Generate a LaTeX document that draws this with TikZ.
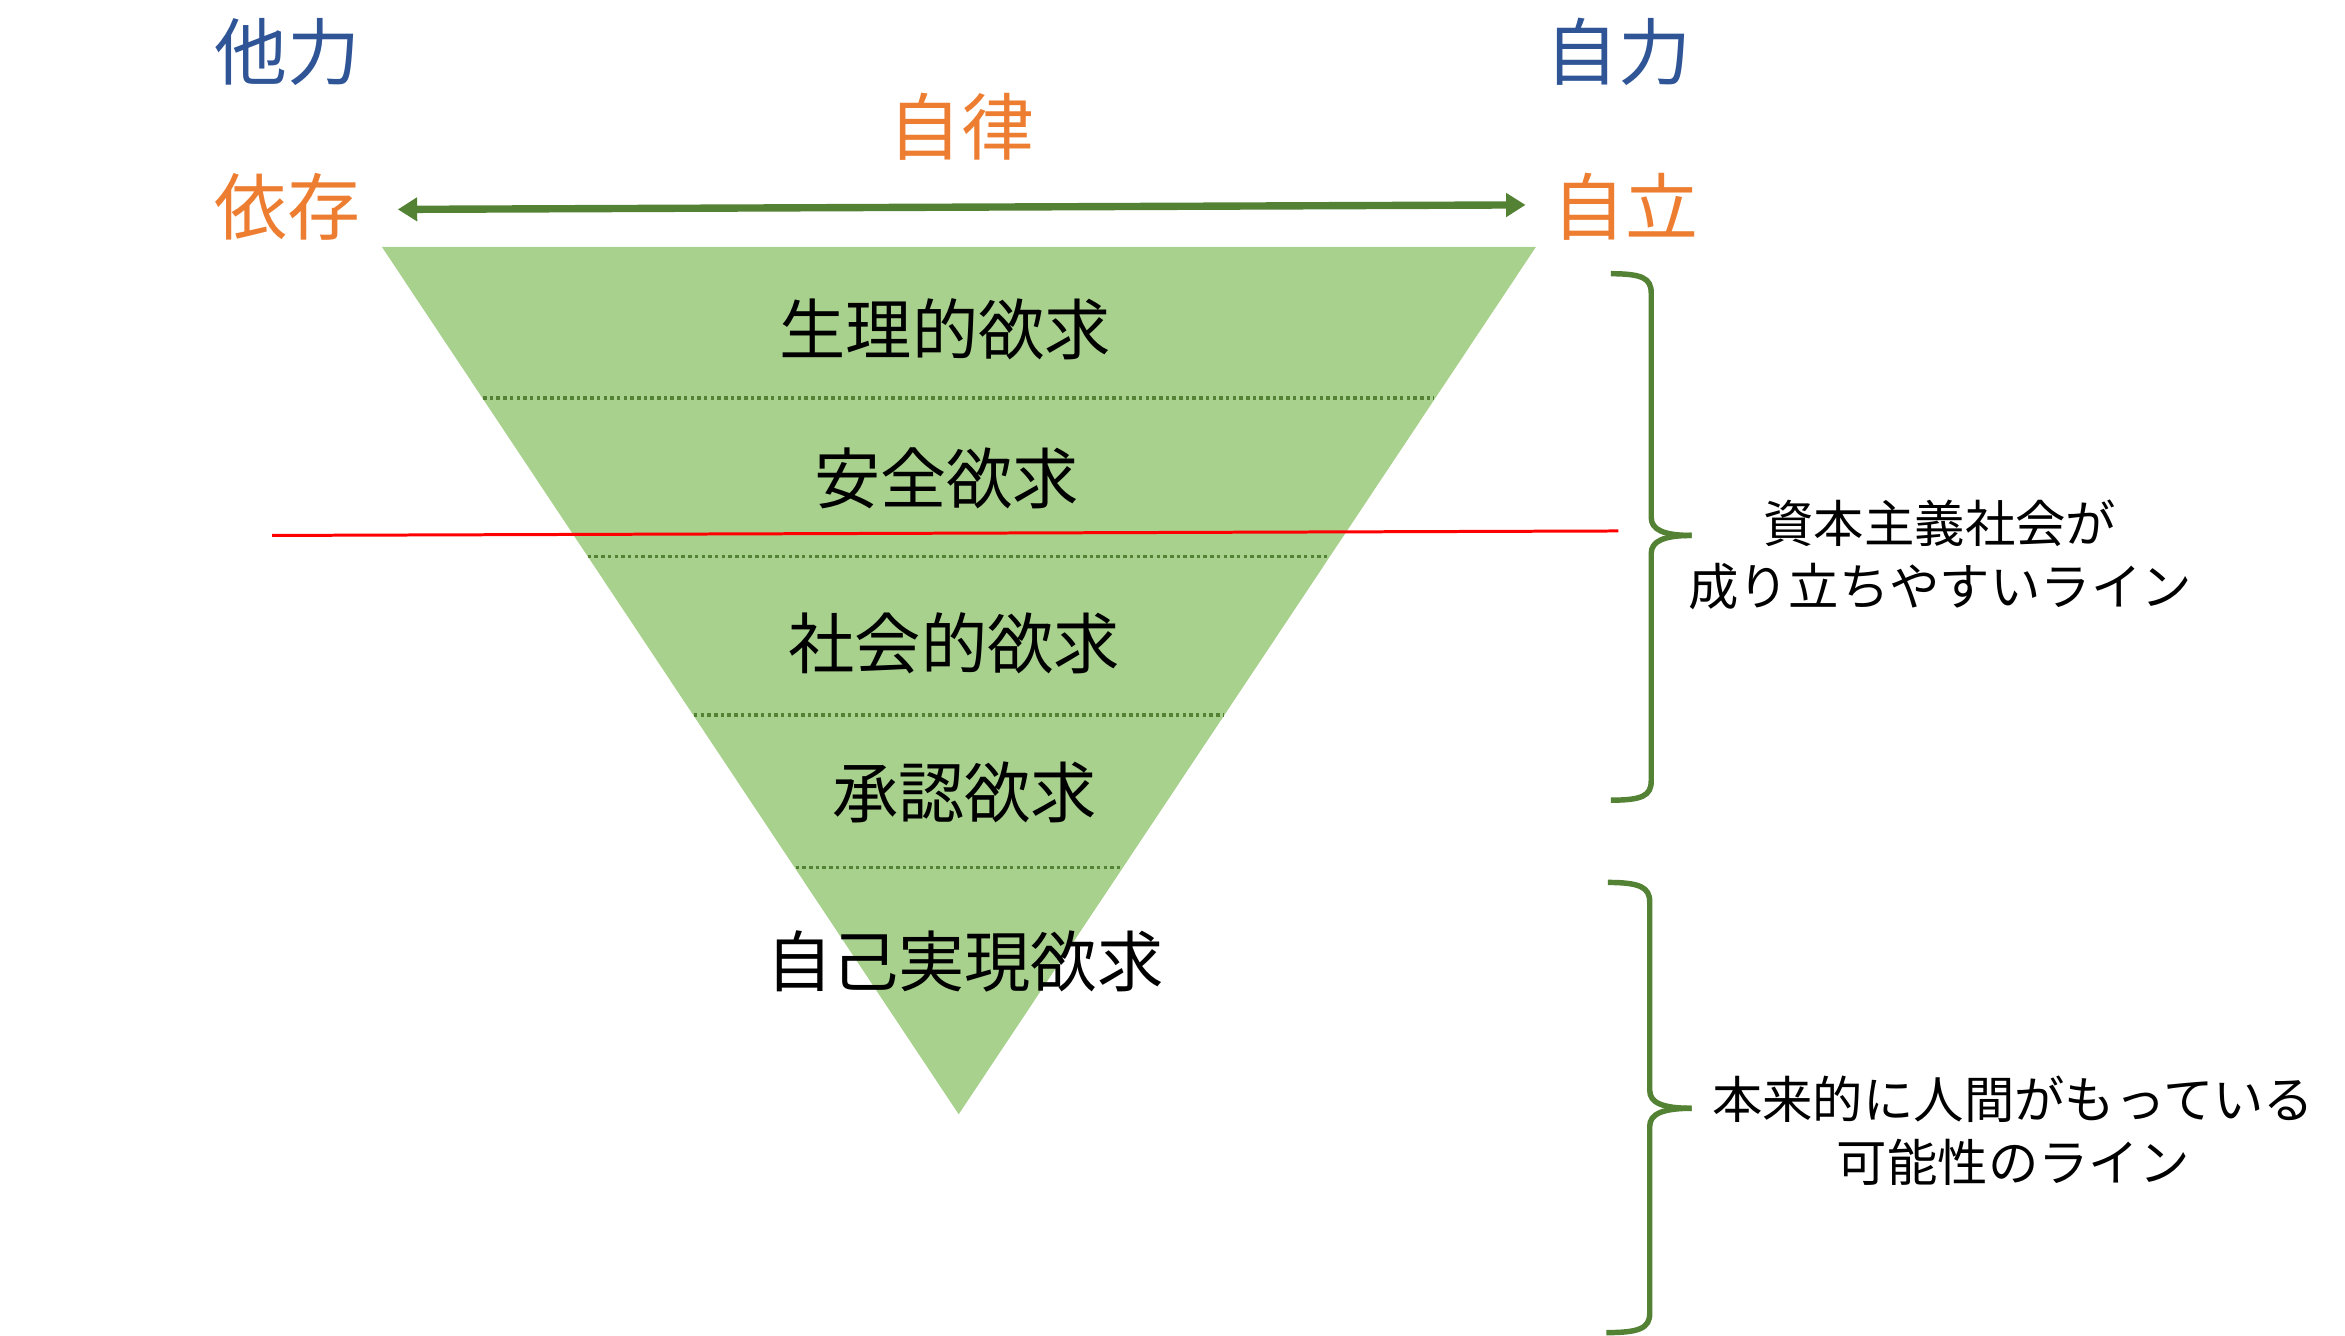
\documentclass[tikz,border=0pt]{standalone}
\usepackage{fontspec}
\setmainfont{Noto Sans CJK JP}
\usetikzlibrary{arrows.meta}
\definecolor{cblue}{HTML}{2F5597}
\definecolor{corange}{HTML}{ED7D31}
\definecolor{cgreen}{HTML}{548235}
\definecolor{cfill}{HTML}{A9D18E}
\tikzset{
  toplabel/.style={inner sep=0pt, font=\fontsize{20.7}{24}\selectfont},
  levellabel/.style={inner sep=0pt, text=black, font=\fontsize{18.8}{22}\selectfont},
  sidelabel/.style={inner sep=0pt, align=center, text=black, font=\fontsize{14.3}{17.9}\selectfont},
  divider/.style={draw=cgreen, line width=0.95pt, dash pattern=on 1pt off 0.9pt},
  bracestyle/.style={draw=cgreen, line width=1.55pt},
  axisarrow/.style={draw=cgreen, line width=2.1pt, {Triangle[width=6.5pt,length=5.5pt]}-{Triangle[width=6.5pt,length=5.5pt]}},
}
\begin{document}
\begin{tikzpicture}[x=0.015cm, y=-0.015cm]
\useasboundingbox (0,0) rectangle (1560,888.7);
\begin{scope}[scale=0.995]
% pyramid
\coordinate (tl) at (255.3,165);
\coordinate (tr) at (1027,165);
\coordinate (bt) at (641,745);
\fill[cfill] (tl) -- (tr) -- (bt) -- cycle;
% dividers
\coordinate (d1l) at (323,266); \coordinate (d1r) at (959,266);
\coordinate (d2l) at (393,372); \coordinate (d2r) at (889,372);
\coordinate (d3l) at (464,478); \coordinate (d3r) at (818,478);
\coordinate (d4l) at (532,580); \coordinate (d4r) at (750,580);
\draw[divider] (d1l) -- (d1r);
\draw[divider] (d2l) -- (d2r);
\draw[divider] (d3l) -- (d3r);
\draw[divider] (d4l) -- (d4r);
% red line
\coordinate (rl) at (182,358);
\coordinate (rr) at (1082,355);
\draw[red, line width=0.85pt] (rl) -- (rr);
% level labels
\node[levellabel] (l1) at (632,220) {生理的欲求};
\node[levellabel] (l2) at (633,320) {安全欲求};
\node[levellabel] (l3) at (638,430) {社会的欲求};
\node[levellabel] (l4) at (645,530) {承認欲求};
\node[levellabel] (l5) at (645,643) {自己実現欲求};
% top labels
\node[toplabel, text=cblue] (tariki) at (192,35) {他力};
\node[toplabel, text=cblue] (jiriki) at (1082,35) {自力};
\node[toplabel, text=corange] (jiritsu) at (643,85) {自律};
\node[toplabel, text=corange] (izon) at (192,138) {依存};
\node[toplabel, text=corange] (jiritsu2) at (1087,138) {自立};
% axis arrow
\coordinate (al) at (266,140);
\coordinate (ar) at (1020,137);
\draw[axisarrow] (al) -- (ar);
% braces
\coordinate (b1t) at (1077,183);
\coordinate (b1b) at (1077,535);
\coordinate (b1tip) at (1131,358);
\draw[bracestyle] (b1t) .. controls (1098,183) and (1104,186) .. (1104,196)
  -- (1104,346) .. controls (1104,354) and (1112,358) .. (b1tip);
\draw[bracestyle] (b1b) .. controls (1098,535) and (1104,532) .. (1104,522)
  -- (1104,370) .. controls (1104,362) and (1112,358) .. (b1tip);
\coordinate (b2t) at (1075,590);
\coordinate (b2b) at (1074,891);
\coordinate (b2tip) at (1131,741);
\draw[bracestyle] (b2t) .. controls (1096,590) and (1103,593) .. (1103,603)
  -- (1103,729) .. controls (1103,737) and (1111,741) .. (b2tip);
\draw[bracestyle] (b2b) .. controls (1096,891) and (1103,888) .. (1103,878)
  -- (1103,753) .. controls (1103,745) and (1111,741) .. (b2tip);
% side texts
\node[sidelabel] (s1) at (1297,371) {資本主義社会が\\成り立ちやすいライン};
\node[sidelabel] (s2) at (1346,756) {本来的に人間がもっている\\可能性のライン};
\end{scope}
\end{tikzpicture}
\end{document}
